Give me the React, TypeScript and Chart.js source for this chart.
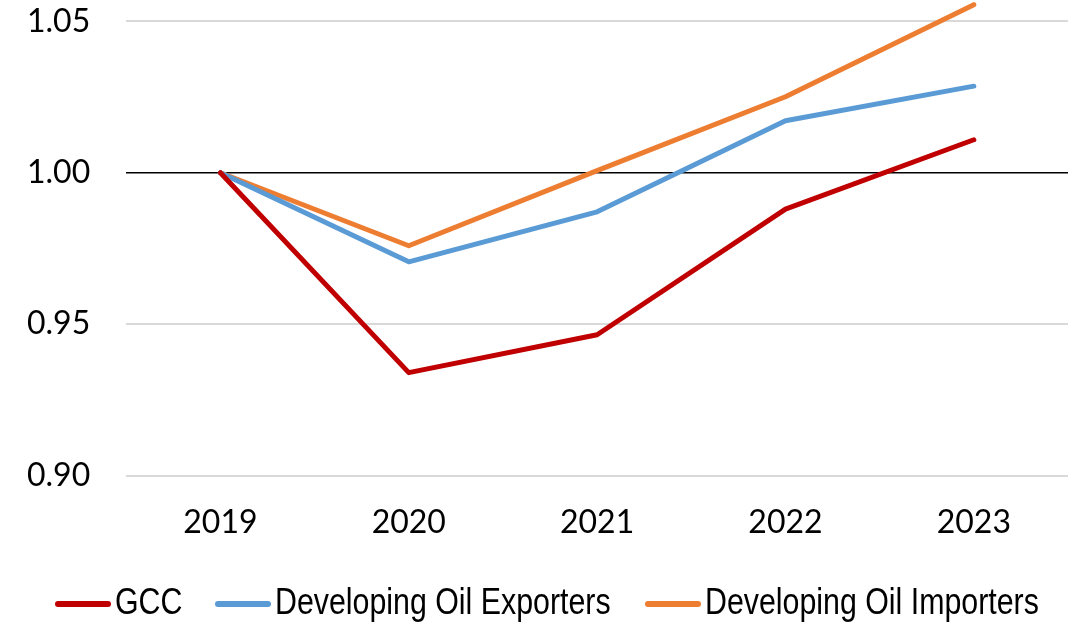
import React, { useEffect, useRef } from "react";
import { Chart, registerables } from "chart.js";

Chart.register(...registerables);

const years = ["2019", "2020", "2021", "2022", "2023"];
const gcc = [1.0, 0.934, 0.9465, 0.988, 1.0109];
const oilExporters = [1.0, 0.9706, 0.9871, 1.0172, 1.0286];
const oilImporters = [1.0, 0.9759, 1.0007, 1.0251, 1.0555];
const yTicks = [0.9, 0.95, 1.0, 1.05];

const seriesNames = ["GCC", "Developing Oil Exporters", "Developing Oil Importers"];
const seriesColors = ["#C00000", "#5B9BD5", "#ED7D31"];
const legendLefts = [55, 215, 645];

export default function App() {
  const ref = useRef<HTMLCanvasElement | null>(null);

  useEffect(() => {
    if (!ref.current) return;
    const family = "Lato, 'Open Sans', sans-serif";
    const values = [gcc, oilExporters, oilImporters];
    const chart = new Chart(ref.current, {
      type: "line",
      data: {
        labels: years,
        datasets: values.map((d, i) => ({
          label: seriesNames[i],
          data: d,
          borderColor: seriesColors[i],
          backgroundColor: seriesColors[i],
          borderWidth: 5,
          pointRadius: 0,
          borderCapStyle: "round" as const,
          borderJoinStyle: "round" as const,
          clip: false as const,
        })),
      },
      options: {
        animation: false,
        responsive: false,
        maintainAspectRatio: false,
        layout: { padding: { left: 27, right: 8, top: 0, bottom: 81 } },
        scales: {
          x: {
            offset: true,
            grid: {
              display: true,
              drawOnChartArea: false,
              drawTicks: true,
              tickLength: 28,
              color: "rgba(0,0,0,0)",
              tickColor: "rgba(0,0,0,0)",
            },
            border: { display: false },
            ticks: { color: "#000", font: { family, size: 32, lineHeight: 1.2 }, padding: 0 },
          },
          y: {
            min: 0.9,
            max: 1.057,
            afterBuildTicks: (axis: any) => {
              axis.ticks = yTicks.map((v) => ({ value: v }));
            },
            grid: {
              drawTicks: true,
              tickLength: 36,
              tickColor: "rgba(0,0,0,0)",
              lineWidth: (ctx: any) => (ctx.tick && Math.abs(ctx.tick.value - 1) < 1e-9 ? 1.5 : 2),
              color: (ctx: any) =>
                ctx.tick && Math.abs(ctx.tick.value - 1) < 1e-9 ? "#000000" : "#D9D9D9",
            },
            border: { display: false },
            ticks: {
              color: "#000",
              font: { family, size: 32, lineHeight: 0.01 },
              padding: 0,
              callback: (v: any) => Number(v).toFixed(2),
            },
          },
        },
        plugins: {
          tooltip: { enabled: false },
          legend: { display: false },
        },
      },
    });
    return () => chart.destroy();
  }, []);

  return (
    <div style={{ position: "absolute", left: 0, top: 0, width: 1076, height: 623, background: "#fff" }}>
      <canvas ref={ref} width={1076} height={623} style={{ width: 1076, height: 623, display: "block" }} />
      {seriesNames.map((n, i) => (
        <div
          key={n}
          style={{
            position: "absolute",
            left: legendLefts[i],
            top: 580,
            height: 44,
            display: "flex",
            alignItems: "center",
            fontFamily: "'Liberation Sans', Arial, sans-serif",
            fontSize: 37,
            color: "#000",
            whiteSpace: "nowrap",
          }}
        >
          <span
            style={{
              display: "inline-block",
              width: 56,
              height: 6,
              borderRadius: 3,
              background: seriesColors[i],
              marginRight: 4,
              marginTop: 4,
            }}
          />
          <span style={{ display: "inline-block", transform: "scaleX(0.82)", transformOrigin: "left center" }}>{n}</span>
        </div>
      ))}
    </div>
  );
}
